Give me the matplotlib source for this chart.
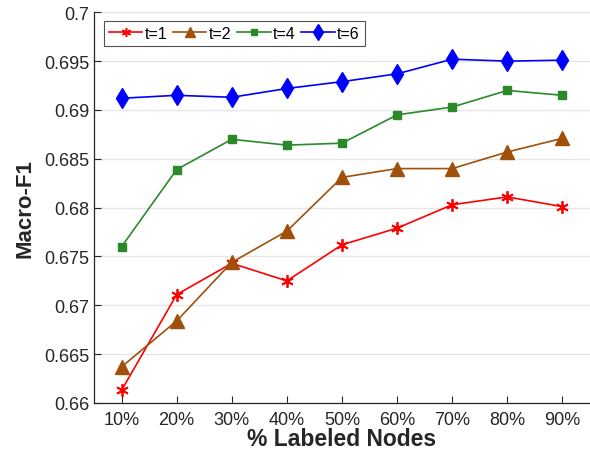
import matplotlib
matplotlib.use("Agg")
import matplotlib.pyplot as plt
from matplotlib.lines import Line2D

categories = ["10%", "20%", "30%", "40%", "50%", "60%", "70%", "80%", "90%"]
t1 = [0.6613, 0.6711, 0.6743, 0.6725, 0.6762, 0.6779, 0.6803, 0.6811, 0.6801]
t2 = [0.6637, 0.6684, 0.6744, 0.6776, 0.6831, 0.6840, 0.6840, 0.6857, 0.6871]
t4 = [0.6760, 0.6839, 0.6870, 0.6864, 0.6866, 0.6895, 0.6903, 0.6920, 0.6915]
t6 = [0.6912, 0.6915, 0.6913, 0.6922, 0.6929, 0.6937, 0.6952, 0.6950, 0.6951]
yticks = [0.66, 0.665, 0.67, 0.675, 0.68, 0.685, 0.69, 0.695, 0.7]
ytick_labels = ["0.66", "0.665", "0.67", "0.675", "0.68", "0.685", "0.69", "0.695", "0.7"]
labels = ["t=1", "t=2", "t=4", "t=6"]

plt.rcParams['font.family'] = ['Liberation Sans', 'DejaVu Sans']

fig = plt.figure(figsize=(5.9, 4.52), dpi=100)
ax = fig.add_axes([94/590, 1 - 404/452, 1 - 94/590, (404 - 13.3)/452])

x = list(range(1, len(categories) + 1))
star = (6, 2, 0)
lw = 1.2
ax.plot(x, t1, color='#ff0000', marker=star, markersize=9, lw=lw, mew=1.3)
ax.plot(x, t2, color='#a0500a', marker='^', markersize=10, lw=lw)
ax.plot(x, t4, color='#2a8a2a', marker='s', markersize=6, lw=lw)
ax.plot(x, t6, color='#0000ff', marker='d', markersize=10.5, lw=lw)

handles = [
    Line2D([], [], color='#ff0000', marker=star, markersize=6.5, mew=1.1, lw=lw),
    Line2D([], [], color='#a0500a', marker='^', markersize=7.5, lw=lw),
    Line2D([], [], color='#2a8a2a', marker='s', markersize=4.5, lw=lw),
    Line2D([], [], color='#0000ff', marker='d', markersize=8, lw=lw),
]
leg = ax.legend(handles, labels, loc='upper left', ncol=4,
                bbox_to_anchor=(10/496, 1 - 9/391), borderaxespad=0,
                fontsize=11.5, frameon=True, fancybox=False,
                handlelength=2.1, handletextpad=0.15, columnspacing=0.35, borderpad=0.3)
leg.get_frame().set_edgecolor('#262626')
leg.get_frame().set_linewidth(0.8)

ax.set_xlim(0.5, 9.5)
ax.set_ylim(0.66, 0.7)
ax.set_xticks(x)
ax.set_xticklabels(categories)
ax.set_yticks(yticks)
ax.set_yticklabels(ytick_labels)
ax.tick_params(direction='in', colors='#262626', labelsize=13, length=5, width=0.8)
ax.tick_params(axis='x', pad=6)
ax.grid(axis='y', color='#e6e6e6', lw=1)
ax.set_axisbelow(True)
for s in ['top', 'right']:
    ax.spines[s].set_visible(False)
for s in ['left', 'bottom']:
    ax.spines[s].set_color('#262626')
    ax.spines[s].set_linewidth(0.9)

ax.set_xlabel('% Labeled Nodes', fontsize=16.5, fontweight='bold', color='#262626', labelpad=-1)
ax.set_ylabel('Macro-F1', fontsize=16, fontweight='bold', color='#262626', labelpad=6)

fig.savefig('out.png', dpi=100)
